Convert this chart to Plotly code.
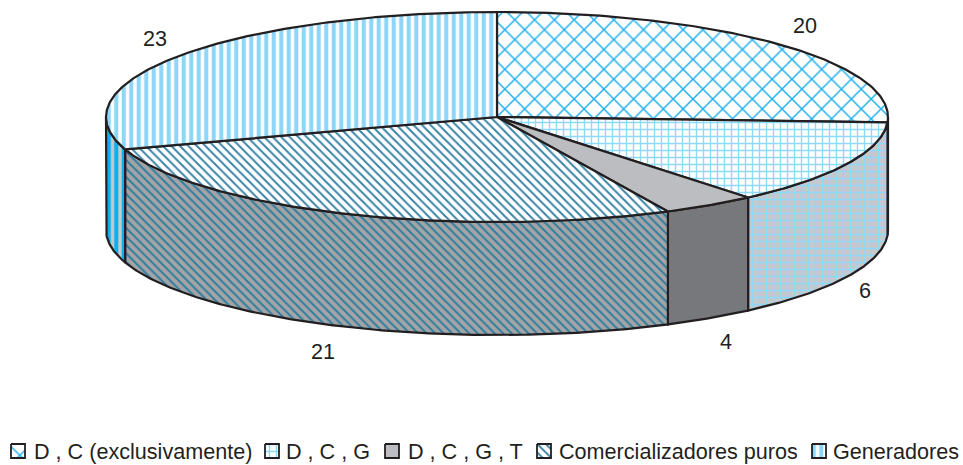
import numpy as np
import plotly.graph_objects as go

categories = ["D , C (exclusivamente)", "D , C , G", "D , C , G , T", "Comercializadores puros", "Generadores"]
labels = ["20", "6", "4", "21", "23"]
# apparent share of the tilted disc taken by each slice (percent)
shares = [25.8, 13.1, 3.9, 27.2, 30.0]

W, H = 963, 465
CX, CY, RX, RY, DEPTH = 497, 117, 391, 105, 113
INK = "#231f20"
FONT = dict(family="Liberation Sans", size=21.6, color=INK)

top_style = [
    dict(shape="x", bgcolor="#ffffff", fgcolor="#1fb0ee", size=14, solidity=0.2, fgopacity=1),
    dict(shape="+", bgcolor="#ffffff", fgcolor="#8fd8f8", size=7, solidity=0.35, fgopacity=1),
    None,
    dict(shape="\\", bgcolor="#ffffff", fgcolor="#3a83a5", size=6, solidity=0.32, fgopacity=1),
    dict(shape="|", bgcolor="#ffffff", fgcolor="#8ed6f7", size=7.5, solidity=0.55, fgopacity=1),
]
side_style = [
    dict(shape="x", bgcolor="#c8c8ca", fgcolor="#1fb0ee", size=14, solidity=0.2, fgopacity=1),
    dict(shape="+", bgcolor="#c8c8ca", fgcolor="#8fd8f8", size=7, solidity=0.35, fgopacity=1),
    None,
    dict(shape="\\", bgcolor="#a3a4a6", fgcolor="#2f7c9e", size=6, solidity=0.32, fgopacity=1),
    dict(shape="|", bgcolor="#c8c8ca", fgcolor="#0bb0ef", size=7.5, solidity=0.55, fgopacity=1),
]
top_solid = "#bcbdc0"
side_solid = "#77787b"

edges = np.concatenate([[0], np.cumsum(shares)]) / np.sum(shares) * 360


def arc(a, b, dy=0.0):
    t = np.radians(np.linspace(a, b, max(int(abs(b - a)) * 2, 2)))
    return CX + RX * np.sin(t), CY - RY * np.cos(t) + dy


def add(fig, xs, ys, style, solid, name, lw=2.2):
    kw = dict(fillpattern=style) if style else dict(fillcolor=solid)
    fig.add_trace(go.Scatter(x=xs, y=ys, mode="lines", fill="toself", name=name, showlegend=False,
                             hoverinfo="name", line=dict(color=INK, width=lw), **kw))


fig = go.Figure()

for i, name in enumerate(categories):
    a, b = max(edges[i], 90), min(edges[i + 1], 270)
    if b > a:
        x1, y1 = arc(a, b)
        x2, y2 = arc(b, a, DEPTH)
        add(fig, np.r_[x1, x2, x1[0]], np.r_[y1, y2, y1[0]], side_style[i], side_solid, name)

for i, name in enumerate(categories):
    x1, y1 = arc(edges[i], edges[i + 1])
    add(fig, np.r_[CX, x1, CX], np.r_[CY, y1, CY], top_style[i], top_solid, name)

# value labels
label_xy = [(805, 25), (865, 290), (726, 341), (323, 351), (155, 38)]
annotations = [dict(x=x, y=y, text=t, showarrow=False, xref="x", yref="y", font=FONT)
               for t, (x, y) in zip(labels, label_xy)]

# key along the bottom
key_box_x = [11, 265, 385, 537, 812]
key_text_x = [32, 284, 406, 557, 831]
for i, name in enumerate(categories):
    x0, y0, s = key_box_x[i], 444, 14
    add(fig, [x0, x0 + s, x0 + s, x0, x0], [y0, y0, y0 + s, y0 + s, y0],
        top_style[i] if i != 2 else None, top_solid, name, lw=1.8)
    annotations.append(dict(x=key_text_x[i], y=451, text=name, showarrow=False, xref="x", yref="y",
                            xanchor="left", font=FONT))

fig.update_layout(
    width=W, height=H, margin=dict(l=0, r=0, t=0, b=0), showlegend=False,
    paper_bgcolor="white", plot_bgcolor="white", annotations=annotations,
    xaxis=dict(range=[0, W], visible=False, fixedrange=True),
    yaxis=dict(range=[H, 0], visible=False, fixedrange=True),
)
fig.write_html("out.html", config=dict(displayModeBar=False),
               post_script="document.body.style.margin='0';document.documentElement.style.overflow='hidden';")
